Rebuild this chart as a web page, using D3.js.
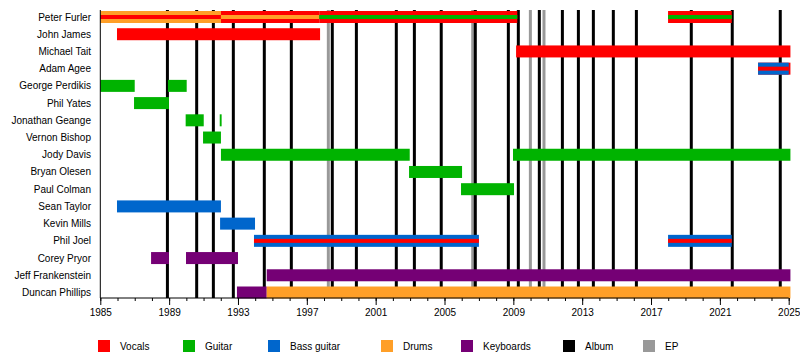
<!DOCTYPE html>
<html>
<head>
<meta charset="utf-8">
<script src="https://cdn.jsdelivr.net/npm/d3@7"></script>
<style>
  html, body { margin: 0; padding: 0; background: #fff; }
  svg { display: block; font-family: "Liberation Sans", Arial, sans-serif; }
</style>
</head>
<body>
<svg id="chart" width="800" height="358"></svg>
<script>
// ---- Data ----
const members = ["Peter Furler", "John James", "Michael Tait", "Adam Agee", "George Perdikis",
  "Phil Yates", "Jonathan Geange", "Vernon Bishop", "Jody Davis", "Bryan Olesen", "Paul Colman",
  "Sean Taylor", "Kevin Mills", "Phil Joel", "Corey Pryor", "Jeff Frankenstein", "Duncan Phillips"];

const roles = ["Vocals", "Guitar", "Bass guitar", "Drums", "Keyboards"];
const roleColors = ["#ff0000", "#00b300", "#0066cc", "#ff9f28", "#750075"];

// [member, primary role, start, end, secondary role]
const stintMember = ["Peter Furler", "Peter Furler", "Peter Furler", "Peter Furler",
  "John James", "Michael Tait", "Adam Agee", "Adam Agee",
  "George Perdikis", "George Perdikis", "Phil Yates",
  "Jonathan Geange", "Jonathan Geange", "Vernon Bishop",
  "Jody Davis", "Jody Davis", "Bryan Olesen", "Paul Colman",
  "Sean Taylor", "Kevin Mills", "Phil Joel", "Phil Joel",
  "Corey Pryor", "Corey Pryor", "Jeff Frankenstein", "Duncan Phillips", "Duncan Phillips"];
const stintRole = ["Drums", "Vocals", "Vocals", "Vocals",
  "Vocals", "Vocals", "Vocals", "Bass guitar",
  "Guitar", "Guitar", "Guitar",
  "Guitar", "Guitar", "Guitar",
  "Guitar", "Guitar", "Guitar", "Guitar",
  "Bass guitar", "Bass guitar", "Bass guitar", "Bass guitar",
  "Keyboards", "Keyboards", "Keyboards", "Keyboards", "Drums"];
const stintStart = [1985.0, 1992.01, 1997.72, 2017.99,
  1985.97, 2009.16, 2023.22, 2023.22,
  1985.0, 1988.93, 1986.96,
  1989.96, 1991.94, 1990.97,
  1992.01, 2008.98, 2002.94, 2005.96,
  1985.97, 1991.96, 1993.93, 2017.99,
  1987.95, 1989.98, 1994.67, 1992.94, 1994.67];
const stintEnd = [1992.01, 1997.72, 2009.23, 2021.69,
  1997.77, 2025.1, 2025.1, 2025.0,
  1987.0, 1990.02, 1988.99,
  1991.01, 1992.05, 1992.01,
  2002.98, 2025.1, 2006.02, 2009.04,
  1992.01, 1993.99, 2007.0, 2021.69,
  1988.99, 1993.0, 2025.1, 1994.67, 2025.1];
const stintSecondary = ["Vocals", "Drums", "Guitar", "Guitar",
  null, null, null, "Vocals",
  null, null, null,
  null, null, null,
  null, null, null, null,
  null, null, "Vocals", "Vocals",
  null, null, null, null, null];

const albumYears = [1988.90, 1990.60, 1991.57, 1992.73, 1994.53, 1996.10, 1998.48, 1999.88,
  2002.20, 2003.25, 2004.81, 2006.79, 2008.71, 2009.29, 2010.51, 2011.85, 2012.78, 2013.65,
  2014.81, 2016.15, 2019.34, 2021.72, 2024.51];
const epYears = [1998.25, 2006.64, 2009.99, 2010.78];

const majorTicks = [1985, 1989, 1993, 1997, 2001, 2005, 2009, 2013, 2017, 2021, 2025];

const legendLabels = ["Vocals", "Guitar", "Bass guitar", "Drums", "Keyboards", "Album", "EP"];
const legendColors = ["#ff0000", "#00b300", "#0066cc", "#ff9f28", "#750075", "#000000", "#999999"];

// ---- Build ----
(function () {
const svg = d3.select("#chart");
const x = d3.scaleLinear().domain([1985, 2025]).range([100.3, 788.7]);
const y = d3.scalePoint().domain(members).range([17, 292.5]);
const color = d3.scaleOrdinal().domain(roles).range(roleColors);
const plotTop = 10, plotBottom = 298, barH = 12, stripeH = 4;

const stints = stintMember.map((m, i) => ({
  member: m, role: stintRole[i], start: stintStart[i], end: stintEnd[i], secondary: stintSecondary[i]
}));

// Event lines
svg.append("g").selectAll("line").data(epYears).join("line")
  .attr("x1", d => x(d)).attr("x2", d => x(d))
  .attr("y1", plotTop).attr("y2", plotBottom)
  .attr("stroke", "#999999").attr("stroke-width", 3);
svg.append("g").selectAll("line").data(albumYears).join("line")
  .attr("x1", d => x(d)).attr("x2", d => x(d))
  .attr("y1", plotTop).attr("y2", plotBottom)
  .attr("stroke", "#000000").attr("stroke-width", 3);

// Bars
const bars = svg.append("g");
bars.append("g").selectAll("rect").data(stints).join("rect")
  .attr("x", d => x(d.start)).attr("width", d => x(d.end) - x(d.start))
  .attr("y", d => y(d.member) - barH / 2).attr("height", barH)
  .attr("fill", d => color(d.role));
bars.append("g").selectAll("rect").data(stints.filter(d => d.secondary)).join("rect")
  .attr("x", d => x(d.start)).attr("width", d => x(d.end) - x(d.start))
  .attr("y", d => y(d.member) - stripeH / 2).attr("height", stripeH)
  .attr("fill", d => color(d.secondary));

// Member labels
svg.append("g").selectAll("text").data(members).join("text")
  .attr("x", 91).attr("y", d => y(d)).attr("dy", "0.35em")
  .attr("text-anchor", "end").attr("font-size", 10).attr("fill", "#000")
  .text(d => d);

// Axis
const axisG = svg.append("g").attr("transform", `translate(0,${plotBottom})`);
axisG.call(d3.axisBottom(x).tickValues(d3.range(1985, 2026, 1)).tickSize(3).tickFormat(""));
axisG.select(".domain").remove();
axisG.selectAll(".tick line").attr("stroke", "#000");
const majorG = svg.append("g").attr("transform", `translate(0,${plotBottom})`);
majorG.call(d3.axisBottom(x).tickValues(majorTicks).tickSize(7).tickPadding(4).tickFormat(d3.format("d")));
majorG.select(".domain").remove();
majorG.selectAll(".tick line").attr("stroke", "#000");
majorG.selectAll(".tick text").attr("font-size", 10).attr("fill", "#000")
  .attr("font-family", "Liberation Sans, Arial, sans-serif");
svg.append("line").attr("x1", x(1985)).attr("x2", x(2025)).attr("y1", plotBottom).attr("y2", plotBottom)
  .attr("stroke", "#000").attr("stroke-width", 1);
svg.append("line").attr("x1", x(1985)).attr("x2", x(1985)).attr("y1", plotTop).attr("y2", plotBottom)
  .attr("stroke", "#000").attr("stroke-width", 1);

// Legend
const legendX = [98, 183, 268, 381, 461, 563, 643];
const lg = svg.append("g").selectAll("g").data(legendLabels).join("g")
  .attr("transform", (d, i) => `translate(${legendX[i]},340)`);
lg.append("rect").attr("width", 12).attr("height", 12).attr("fill", (d, i) => legendColors[i]);
lg.append("text").attr("x", 22).attr("y", 6).attr("dy", "0.35em")
  .attr("font-size", 10).attr("fill", "#000").text(d => d);
})();
</script>
</body>
</html>
